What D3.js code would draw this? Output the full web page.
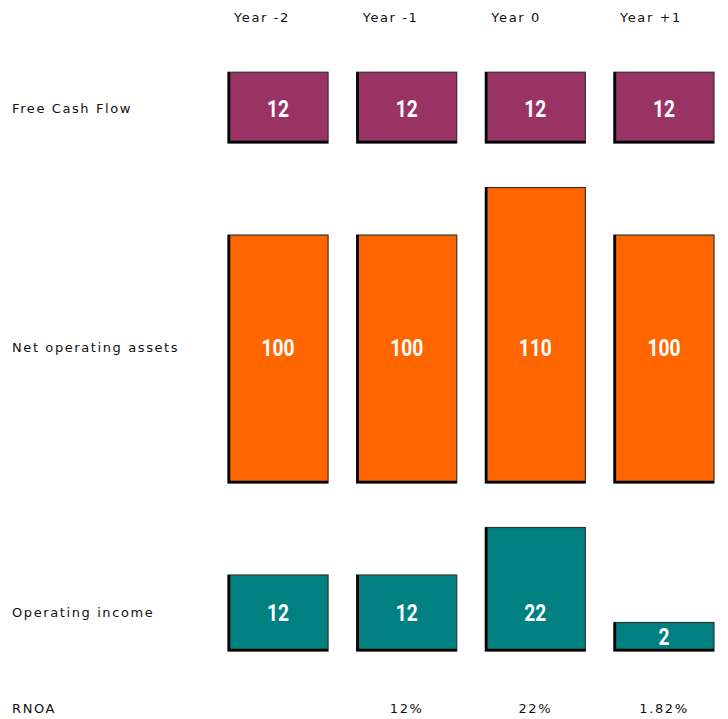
<!DOCTYPE html>
<html>
<head>
<meta charset="utf-8">
<script src="https://cdn.jsdelivr.net/npm/d3@7"></script>
<style>
  body { margin: 0; background: #fff; }
  .rowLabel, .colLabel, .rnoa { font-family: "DejaVu Sans", Verdana, sans-serif; font-size: 13px; letter-spacing: 1.6px; fill: #111; }
  .valLabel { font-family: Roboto, "DejaVu Sans", sans-serif; font-weight: bold; font-size: 24px; fill: #fff; }
</style>
</head>
<body>
<div id="chart"></div>
<script>
// data
var years = ["Year -2", "Year -1", "Year 0", "Year +1"];
var freeCashFlow = [12, 12, 12, 12];
var netOperatingAssets = [100, 100, 110, 100];
var operatingIncome = [12, 12, 22, 2];
var rnoa = ["", "12%", "22%", "1.82%"];

var rows = [
	{label: "Free Cash Flow", values: freeCashFlow, color: "#993366", base: -2.9, bottom: 143, labelY: 108},
	{label: "Net operating assets", values: netOperatingAssets, color: "#ff6600", base: 47.8, bottom: 483, labelY: 347},
	{label: "Operating income", values: operatingIncome, color: "#008080", base: -4, bottom: 651, labelY: 612}
];

var width = 728, height = 719;

var svg = d3.select("#chart").append("svg")
	.attr("width", width)
	.attr("height", height);

// column positions
var x = d3.scaleBand()
	.domain(years)
	.range([228, 714])
	.paddingInner(0.222)
	.paddingOuter(0);

// shared units-to-pixels scale, each row has its own baseline
function yScale(row) {
	return d3.scaleLinear().domain([row.base, row.base + 100]).range([0, 475]);
}

// column headings
svg.selectAll("text.colLabel")
	.data(years)
	.enter().append("text")
	.classed("colLabel", true)
	.attr("x", function(d) { return x(d) + 6; })
	.attr("y", 22)
	.text(function(d) { return d; });

rows.forEach(function(row) {
	var h = yScale(row);
	var g = svg.append("g");

	g.append("text")
		.classed("rowLabel", true)
		.attr("x", 12)
		.attr("y", row.labelY + 5)
		.text(row.label);

	var bars = g.selectAll("g.bar")
		.data(row.values.map(function(v, i) { return {v: v, year: years[i]}; }))
		.enter().append("g")
		.classed("bar", true);

	bars.append("rect")
		.attr("x", function(d) { return x(d.year); })
		.attr("y", function(d) { return row.bottom - h(d.v); })
		.attr("width", x.bandwidth())
		.attr("height", function(d) { return h(d.v); })
		.attr("fill", row.color)
		.attr("stroke", "#333")
		.attr("stroke-width", 1.2);

	// heavier left and bottom edge
	bars.append("path")
		.attr("d", function(d) {
			var x0 = x(d.year) + 1, top = row.bottom - h(d.v);
			return "M" + x0 + "," + top + "V" + (row.bottom - 1) + "H" + (x0 + x.bandwidth() - 1);
		})
		.attr("fill", "none")
		.attr("stroke", "#000")
		.attr("stroke-width", 2.5);

	// value labels, condensed horizontally
	bars.append("text")
		.classed("valLabel", true)
		.attr("transform", function(d) {
			var top = row.bottom - h(d.v);
			var cy = (top + row.bottom) / 2;
			// keep label inside short bars
			var y = (row.labelY - 10 > top) ? row.labelY : cy;
			return "translate(" + (x(d.year) + x.bandwidth() / 2) + "," + (y + 8.5) + ") scale(0.8,1)";
		})
		.attr("text-anchor", "middle")
		.text(function(d) { return d.v; });
});

// RNOA row
svg.append("text")
	.classed("rowLabel", true)
	.attr("x", 12)
	.attr("y", 713)
	.text("RNOA");

svg.selectAll("text.rnoa")
	.data(rnoa)
	.enter().append("text")
	.classed("rnoa", true)
	.attr("x", function(d, i) { return x(years[i]) + x.bandwidth() / 2; })
	.attr("y", 713)
	.attr("text-anchor", "middle")
	.text(function(d) { return d; });
</script>
</body>
</html>
